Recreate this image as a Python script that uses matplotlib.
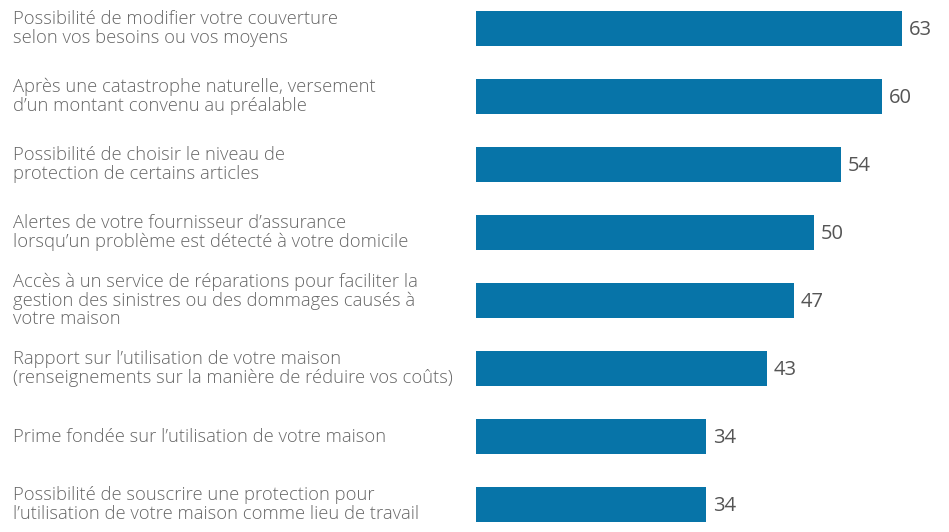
import matplotlib
matplotlib.use("Agg")
import matplotlib.pyplot as plt

categories = [
    "Possibilité de modifier votre couverture\nselon vos besoins ou vos moyens",
    "Après une catastrophe naturelle, versement\nd’un montant convenu au préalable",
    "Possibilité de choisir le niveau de\nprotection de certains articles",
    "Alertes de votre fournisseur d’assurance\nlorsqu’un problème est détecté à votre domicile",
    "Accès à un service de réparations pour faciliter la\ngestion des sinistres ou des dommages causés à\nvotre maison",
    "Rapport sur l’utilisation de votre maison\n(renseignements sur la manière de réduire vos coûts)",
    "Prime fondée sur l’utilisation de votre maison",
    "Possibilité de souscrire une protection pour\nl’utilisation de votre maison comme lieu de travail",
]
values = [63, 60, 54, 50, 47, 43, 34, 34]

W, H = 949, 532
fig = plt.figure(figsize=(W / 100, H / 100), dpi=100)
left_px = 476
px_per_unit = 426 / 63
ax = fig.add_axes([left_px / W, 0, (W - left_px) / W, 1])
pos = list(range(len(values)))
ax.barh(pos, values, height=35 / 68, color="#0774A8")
ax.set_xlim(0, (W - left_px) / px_per_unit)
ax.set_ylim((H - 28.5) / 68, -28.5 / 68)
ax.axis("off")

for p, v in zip(pos, values):
    ax.text(v + 7 / px_per_unit, p + 0.02, str(v), va="center", ha="left",
            fontsize=14.5, color="#555555", family="Open Sans")

for p, c in zip(pos, categories):
    y_fig = 1 - (28.5 + 68 * p) / H
    fig.text(13 / W, y_fig, c, ha="left", va="center", fontsize=13.2,
             color="#666666", family="Open Sans", fontweight="light",
             linespacing=1.05)

fig.savefig("out.png", dpi=100)
